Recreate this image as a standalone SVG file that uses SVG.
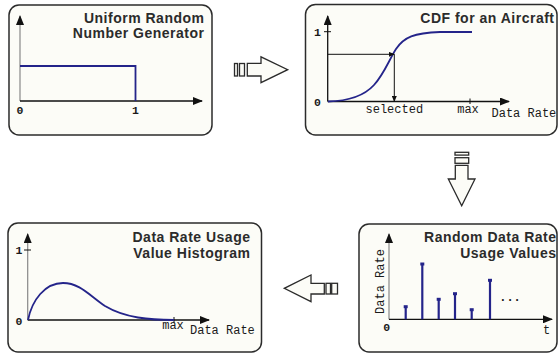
<svg xmlns="http://www.w3.org/2000/svg" width="560" height="356" viewBox="0 0 560 356">
<style>
.box{fill:#fcfcf7;stroke:#2b2b2b;stroke-width:1.5}
.title{font-family:"Liberation Sans",Arial,sans-serif;font-weight:bold;font-size:14px;letter-spacing:0.5px;fill:#2b2b2b;text-anchor:end}
.mono{font-family:"Liberation Mono","Courier New",monospace;font-size:12px;fill:#1a1a1a}
.dig{font-family:"Liberation Mono","Courier New",monospace;font-size:11.5px;font-weight:bold;fill:#1a1a1a;text-anchor:middle}
.ax{stroke:#111;stroke-width:1.3;fill:none}
.ay{stroke:#888;stroke-width:1.2;fill:none}
.curve{stroke:#24248a;stroke-width:1.8;fill:none}
.stem{stroke:#24248a;stroke-width:2.2}
.arrow{fill:#fcfcf7;stroke:#2b2b2b;stroke-width:1.3}
.thin{stroke:#111;stroke-width:1;fill:none}
</style>
<defs>
<marker id="ah" markerWidth="10" markerHeight="8" refX="9" refY="4" orient="auto" markerUnits="userSpaceOnUse">
<path d="M0,0 L10,4 L0,8 Z" fill="#111"/>
</marker>
<marker id="sh" markerWidth="6" markerHeight="5" refX="5.5" refY="2.5" orient="auto" markerUnits="userSpaceOnUse">
<path d="M0,0 L6,2.5 L0,5 Z" fill="#111"/>
</marker>
</defs>

<g id="uniform-generator">
<rect class="box" x="9" y="5" width="203" height="130" rx="10"/>
<text class="title" x="204.5" y="22.5">Uniform Random</text>
<text class="title" x="204.5" y="38">Number Generator</text>
<line class="ay" x1="20" y1="101" x2="20" y2="16" marker-end="url(#ah)"/>
<line class="ax" x1="20" y1="101" x2="202" y2="101" marker-end="url(#ah)"/>
<polyline class="curve" points="20,66 135.5,66 135.5,101"/>
<text class="dig" x="20" y="114">0</text>
<text class="dig" x="135.5" y="114">1</text>
</g>

<g id="cdf-aircraft">
<rect class="box" x="305.5" y="4.5" width="251.5" height="130.5" rx="10"/>
<text class="title" x="554.5" y="22.5">CDF for an Aircraft</text>
<line class="ax" x1="327.7" y1="101.5" x2="327.7" y2="16" marker-end="url(#ah)"/>
<line class="ax" x1="327.7" y1="101.5" x2="509" y2="101.5" marker-end="url(#ah)"/>
<line class="thin" x1="324" y1="31.7" x2="331" y2="31.7"/>
<line class="thin" x1="470" y1="98.5" x2="470" y2="104"/>
<path class="curve" d="M328,101.5 C350,101 364,96 374,85 C384,74 389,60 396,49 C404,37 414,33 440,32 L472,32"/>
<line class="thin" x1="327.7" y1="54.3" x2="394.3" y2="54.3" marker-end="url(#sh)"/>
<line class="thin" x1="394.3" y1="54.3" x2="394.3" y2="101.5" marker-end="url(#sh)"/>
<text class="dig" x="317.5" y="36">1</text>
<text class="dig" x="317.5" y="106">0</text>
<text class="mono" x="394.3" y="113" text-anchor="middle">selected</text>
<text class="mono" x="468" y="113" text-anchor="middle">max</text>
<text class="mono" x="491.5" y="117">Data Rate</text>
</g>

<g id="random-values">
<rect class="box" x="359" y="224" width="198" height="128" rx="10"/>
<text class="title" x="556.5" y="241.5">Random Data Rate</text>
<text class="title" x="556.5" y="258">Usage Values</text>
<line class="ay" x1="389" y1="319.3" x2="389" y2="234" marker-end="url(#ah)"/>
<line class="ax" x1="389" y1="319.3" x2="552" y2="319.3" marker-end="url(#ah)"/>
<line class="stem" x1="405.7" y1="319.3" x2="405.7" y2="306.7"/>
<line class="stem" x1="422.3" y1="319.3" x2="422.3" y2="264"/>
<line class="stem" x1="438.7" y1="319.3" x2="438.7" y2="299.3"/>
<line class="stem" x1="455" y1="319.3" x2="455" y2="293.7"/>
<line class="stem" x1="471.7" y1="319.3" x2="471.7" y2="309.7"/>
<line class="stem" x1="490" y1="319.3" x2="490" y2="280.3"/>
<rect x="403.7" y="305.2" width="4" height="3" fill="#24248a"/>
<rect x="420.3" y="262.5" width="4" height="3" fill="#24248a"/>
<rect x="436.7" y="297.8" width="4" height="3" fill="#24248a"/>
<rect x="453" y="292.2" width="4" height="3" fill="#24248a"/>
<rect x="469.7" y="308.2" width="4" height="3" fill="#24248a"/>
<rect x="488" y="278.8" width="4" height="3" fill="#24248a"/>
<text class="mono" x="510" y="301" text-anchor="middle" style="font-weight:bold">...</text>
<text class="dig" x="386.7" y="331">0</text>
<text class="mono" x="546.7" y="334" text-anchor="middle">t</text>
<text class="mono" x="0" y="0" text-anchor="middle" transform="translate(383.5,281.5) rotate(-90)">Data Rate</text>
</g>

<g id="histogram">
<rect class="box" x="8" y="223" width="253.5" height="129" rx="10"/>
<text class="title" x="250.5" y="241.5">Data Rate Usage</text>
<text class="title" x="250.5" y="258">Value Histogram</text>
<line class="ay" x1="27.7" y1="320" x2="27.7" y2="234" marker-end="url(#ah)"/>
<line class="ax" x1="27.7" y1="320" x2="209" y2="320" marker-end="url(#ah)"/>
<line class="thin" x1="24" y1="250" x2="31" y2="250"/>
<line class="thin" x1="174" y1="317" x2="174" y2="323"/>
<path class="curve" d="M28,320 C32,300 45,283 63,283 C80,283 90,296 105,306 C125,318 150,320 174,320"/>
<text class="dig" x="19" y="254">1</text>
<text class="dig" x="19" y="325">0</text>
<text class="mono" x="173" y="329" text-anchor="middle">max</text>
<text class="mono" x="190" y="334">Data Rate</text>
</g>

<g id="connectors">
<rect class="arrow" x="234.5" y="63.5" width="3" height="12.5"/>
<rect class="arrow" x="239.5" y="63.5" width="5" height="12.5"/>
<polygon class="arrow" points="247.3,63.3 261,63.3 261,56.8 287.7,69.7 261,82.7 261,76 247.3,76"/>
<rect class="arrow" x="455" y="152.3" width="13.7" height="2.8"/>
<rect class="arrow" x="455" y="157.7" width="13.7" height="5.6"/>
<polygon class="arrow" points="455.3,165.3 468,165.3 468,179 475,179 461.7,205.7 448.3,179 455.3,179"/>
<polygon class="arrow" points="324.3,283.3 311,283.3 311,275 284.3,288.3 311,301.7 311,294 324.3,294"/>
<rect class="arrow" x="326" y="283.3" width="4.5" height="10.7"/>
<rect class="arrow" x="331.7" y="283.3" width="5.8" height="10.7"/>
</g>
</svg>
